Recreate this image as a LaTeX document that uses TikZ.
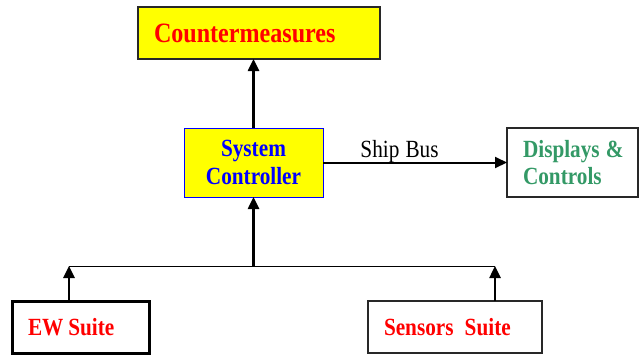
\documentclass[tikz,border=0pt]{standalone}
\usepackage{fontspec}
\setmainfont{Liberation Serif}[FakeStretch=0.86, WordSpace=0.8]
\usetikzlibrary{arrows.meta}
\definecolor{cmyellow}{RGB}{255,255,0}
\definecolor{cmred}{RGB}{255,0,0}
\definecolor{cmblue}{RGB}{0,0,255}
\definecolor{cmgreen}{RGB}{51,153,102}
\definecolor{cmgray}{RGB}{40,40,40}
\tikzset{
  box/.style={rectangle, draw=cmgray, line width=1.3pt, inner ysep=0pt, outer sep=0pt,
    font=\bfseries\fontsize{24.7}{27.5}\selectfont},
  leftbox/.style={box, inner xsep=16pt, align=left},
  thickarrow/.style={line width=2.5pt, -{Triangle[width=11pt,length=12pt]}},
  busarrow/.style={line width=2pt, -{Triangle[width=11pt,length=12pt]}},
  busline/.style={line width=1pt},
}
\begin{document}
\begin{tikzpicture}[x=1pt,y=-1pt]
\useasboundingbox (0,0) rectangle (639,354);
% boxes
\node[leftbox, fill=cmyellow, text=cmred, minimum height=52pt, text width=210pt,
      font=\bfseries\fontsize{28}{30}\selectfont] (cm) at (259,33) {Countermeasures};
\node[box, draw=cmblue, line width=1pt, fill=cmyellow, text=cmblue, align=center,
      minimum width=139pt, minimum height=69pt] (sc) at (253.5,162.5) {System\\Controller};
\node[leftbox, text=cmgreen, minimum height=69pt, text width=99pt] (dc) at (572.5,162.5) {\mbox{Displays\hspace{0.25em}\&}\\Controls};
\node[leftbox, draw=black, line width=3pt, text=cmred, minimum height=52pt, text width=105pt] (ew) at (80.5,327) {\mbox{EW\hspace{0.2em}Suite}};
\node[leftbox, text=cmred, minimum height=52pt, text width=142pt] (ss) at (455,327) {\mbox{Sensors\hspace{0.45em}Suite}};
% connectors
\draw[thickarrow] (sc.north) -- (sc.north |- cm.south);
\draw[busarrow] (sc.east) -- node[pos=0.416, anchor=base, yshift=5pt, inner sep=0pt,
      font=\fontsize{24.7}{27.5}\selectfont] (shipbus) {Ship\hspace{0.25em}Bus} (dc.west);
\coordinate (busl) at (69,266);
\coordinate (busr) at (495,266);
\coordinate (busm) at (sc.south |- busl);
\draw[busline] (busl) -- (busr);
\draw[thickarrow] (busm) -- (sc.south);
\draw[thickarrow] (busl |- ew.north) -- (busl);
\draw[thickarrow] (busr |- ss.north) -- (busr);
\end{tikzpicture}
\end{document}
